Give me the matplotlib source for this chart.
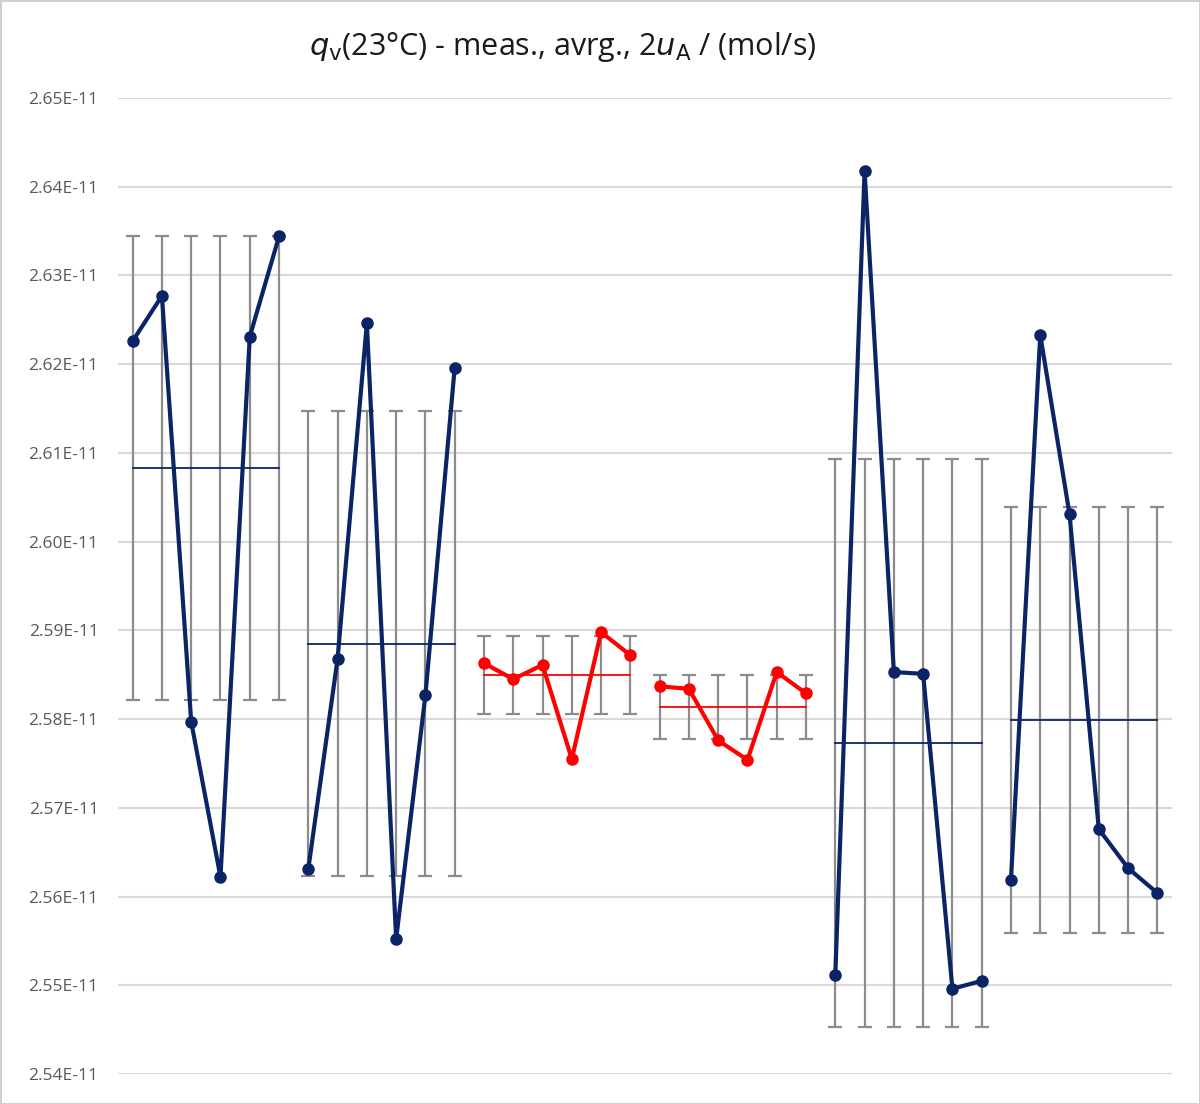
import numpy as np
import matplotlib.pyplot as plt

plt.rcParams['font.family'] = ['Open Sans', 'DejaVu Sans']

# measured values, units of 1e-11 mol/s, six per run
g1 = [2.6226, 2.6277, 2.5797, 2.5622, 2.6231, 2.6344]
g2 = [2.5631, 2.5868, 2.6246, 2.5552, 2.5827, 2.6196]
g3 = [2.5863, 2.5845, 2.5861, 2.5755, 2.5898, 2.5872]
g4 = [2.5837, 2.5834, 2.5776, 2.5754, 2.5853, 2.5829]
g5 = [2.5512, 2.6418, 2.5853, 2.5851, 2.5496, 2.5505]
g6 = [2.5619, 2.6233, 2.6031, 2.5676, 2.5632, 2.5604]

groups = [g1, g2, g3, g4, g5, g6]
means = [2.6083, 2.5885, 2.5850, 2.5814, 2.5773, 2.5799]
two_u = [0.0261, 0.0262, 0.0044, 0.0036, 0.0320, 0.0240]
colors = ['#0B2466', '#0B2466', '#FF0000', '#FF0000', '#0B2466', '#0B2466']

yticks = np.arange(2.54, 2.6501, 0.01)

fig = plt.figure(figsize=(12, 11.04), dpi=100)
fig.patch.set_edgecolor('#d0d0d0')
fig.patch.set_linewidth(2)
ax = fig.add_axes([118 / 1200, 1 - 1074 / 1104, (1172 - 118) / 1200, (1074 - 98) / 1104])

for i, (vals, m, u, c) in enumerate(zip(groups, means, two_u, colors)):
    x = np.arange(1, 7) + 6 * i
    ax.errorbar(x, [m] * 6, yerr=u, fmt='none', ecolor='#8c8c8c', elinewidth=1.6,
                capsize=5, capthick=1.6, zorder=2)
    ax.plot([x[0], x[-1]], [m, m], color=c, lw=1.3, zorder=3)
    ax.plot(x, vals, color=c, lw=3, marker='o', ms=8, zorder=4)

ax.set_xlim(0.5, 36.5)
ax.set_ylim(2.54, 2.65)
ax.set_yticks(yticks)
ax.set_yticklabels([f'{v:.2f}E-11' for v in yticks], color='#595959', fontsize=12.5)
ax.set_xticks([])
ax.tick_params(axis='y', length=0, pad=14)
ax.grid(axis='y', color='#d9d9d9', lw=1.5)
ax.set_axisbelow(True)
for s in ax.spines.values():
    s.set_visible(False)

fig.text(563 / 1200, 1 - 47 / 1104,
         r'$q_{\mathrm{v}}$(23°C) - meas., avrg., 2$u_{\mathrm{A}}$ / (mol/s)',
         ha='center', va='center', fontsize=22, color='#1a1a1a')

fig.savefig('out.png', dpi=100)
